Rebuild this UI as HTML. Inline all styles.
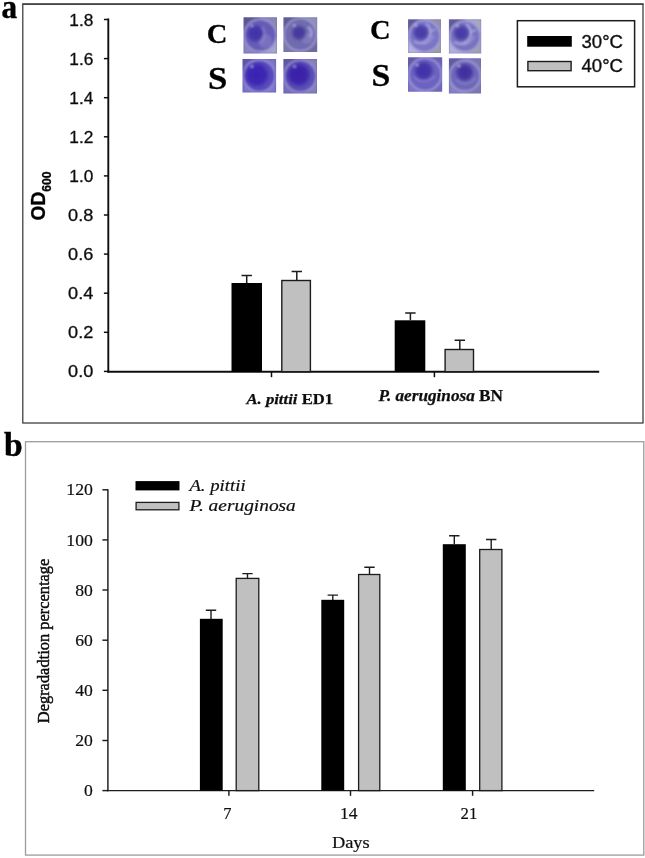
<!DOCTYPE html>
<html lang="en">
<head>
<meta charset="utf-8">
<title>Figure</title>
<style>
html,body{margin:0;padding:0;background:#fff;}
body{width:645px;height:858px;overflow:hidden;}
svg{display:block;}
.sans{font-family:"Liberation Sans",Arial,sans-serif;}
.serif{font-family:"Liberation Serif","Times New Roman",serif;}
</style>
</head>
<body>
<svg width="645" height="858" viewBox="0 0 645 858">
<defs>
  <filter id="soft" x="-5%" y="-5%" width="110%" height="110%"><feGaussianBlur stdDeviation="0.95"/></filter>
  <filter id="g" x="-2%" y="-2%" width="104%" height="104%"><feGaussianBlur stdDeviation="0.38"/></filter>
</defs>
<rect x="0" y="0" width="645" height="858" fill="#ffffff"/>
<g filter="url(#g)">
<!-- ================= PANEL A ================= -->
<g id="panelA">
  <rect x="22.8" y="4.3" width="620.2" height="418.7" fill="#fff" stroke="#303030" stroke-width="1.2"/>
  <line x1="22.2" y1="4.2" x2="643.6" y2="4.2" stroke="#444" stroke-width="1.7"/>
  <text class="serif" x="1.4" y="17.9" font-size="33" font-weight="bold" fill="#000" stroke="#000" stroke-width="0.4" textLength="15.6" lengthAdjust="spacingAndGlyphs">a</text>

  <g stroke="#111" stroke-width="1.9" fill="none">
    <line x1="108.3" y1="18.6" x2="108.3" y2="372.6"/>
    <line x1="107.4" y1="371.7" x2="599.2" y2="371.7"/>
  </g>
  <g stroke="#111" stroke-width="1.5">
<line x1="103.9" y1="371.4" x2="108.3" y2="371.4"/>
<line x1="103.9" y1="332.3" x2="108.3" y2="332.3"/>
<line x1="103.9" y1="293.2" x2="108.3" y2="293.2"/>
<line x1="103.9" y1="254.1" x2="108.3" y2="254.1"/>
<line x1="103.9" y1="215.0" x2="108.3" y2="215.0"/>
<line x1="103.9" y1="175.9" x2="108.3" y2="175.9"/>
<line x1="103.9" y1="136.8" x2="108.3" y2="136.8"/>
<line x1="103.9" y1="97.7" x2="108.3" y2="97.7"/>
<line x1="103.9" y1="58.6" x2="108.3" y2="58.6"/>
<line x1="103.9" y1="19.5" x2="108.3" y2="19.5"/>

    <line x1="271.5" y1="371.7" x2="271.5" y2="377.2"/>
    <line x1="434.4" y1="371.7" x2="434.4" y2="377.2"/>
  </g>
  <g class="sans" font-size="16.2" fill="#111" stroke="#111" stroke-width="0.3" text-anchor="end">
<text x="93.3" y="377.4" textLength="25.2" lengthAdjust="spacingAndGlyphs">0.0</text>
<text x="93.3" y="338.3" textLength="25.2" lengthAdjust="spacingAndGlyphs">0.2</text>
<text x="93.3" y="299.2" textLength="25.2" lengthAdjust="spacingAndGlyphs">0.4</text>
<text x="93.3" y="260.1" textLength="25.2" lengthAdjust="spacingAndGlyphs">0.6</text>
<text x="93.3" y="221.0" textLength="25.2" lengthAdjust="spacingAndGlyphs">0.8</text>
<text x="93.3" y="181.9" textLength="24" lengthAdjust="spacingAndGlyphs">1.0</text>
<text x="93.3" y="142.8" textLength="24" lengthAdjust="spacingAndGlyphs">1.2</text>
<text x="93.3" y="103.7" textLength="24" lengthAdjust="spacingAndGlyphs">1.4</text>
<text x="93.3" y="64.6" textLength="24" lengthAdjust="spacingAndGlyphs">1.6</text>
<text x="93.3" y="25.5" textLength="24" lengthAdjust="spacingAndGlyphs">1.8</text>

  </g>
  <g transform="translate(45,220.4) rotate(-90) scale(1,1.07)">
    <text class="sans" font-weight="bold" font-size="19.1" fill="#000" stroke="#000" stroke-width="0.3" x="0" y="0">OD<tspan font-size="12.1" dy="5.6">600</tspan></text>
  </g>

  <rect x="231.5" y="283" width="30.5" height="88.7" fill="#000"/>
  <rect x="281.8" y="280.5" width="28.6" height="91.2" fill="#c0c0c0" stroke="#1c1c1c" stroke-width="1.4"/>
  <rect x="394.7" y="320.3" width="30.6" height="51.4" fill="#000"/>
  <rect x="445.1" y="349.5" width="28.4" height="22.2" fill="#c0c0c0" stroke="#1c1c1c" stroke-width="1.4"/>
  <g stroke="#1c1c1c" stroke-width="1.5" fill="none">
    <path d="M246.7 283V275.6M241.5 275.6H251.9"/>
    <path d="M296.8 280V271.4M291.6 271.4H302"/>
    <path d="M410.4 320.3V313.1M405.2 313.1H415.6"/>
    <path d="M459.8 349V340.2M454.6 340.2H465"/>
  </g>
  <text class="serif" font-weight="bold" font-size="15.4" fill="#111" stroke="#111" stroke-width="0.25" x="246.4" y="403.5" textLength="86.8" lengthAdjust="spacingAndGlyphs"><tspan font-style="italic">A. pittii</tspan> ED1</text>
  <text class="serif" font-weight="bold" font-size="16.6" fill="#111" stroke="#111" stroke-width="0.25" x="378.6" y="401" textLength="124.4" lengthAdjust="spacingAndGlyphs"><tspan font-style="italic">P. aeruginosa</tspan> BN</text>

  <rect x="517.4" y="20.7" width="117.2" height="66.1" fill="#fff" stroke="#1c1c1c" stroke-width="1.5"/>
  <rect x="527.2" y="36" width="44.6" height="10.7" fill="#000"/>
  <rect x="527.9" y="61.5" width="43.2" height="9.2" fill="#c0c0c0" stroke="#1c1c1c" stroke-width="1.4"/>
  <text class="sans" font-size="18.4" fill="#111" stroke="#111" stroke-width="0.35" x="581.5" y="47.6" textLength="41.5" lengthAdjust="spacingAndGlyphs">30°C</text>
  <text class="sans" font-size="18.4" fill="#111" stroke="#111" stroke-width="0.35" x="581.5" y="72.2" textLength="41.5" lengthAdjust="spacingAndGlyphs">40°C</text>

  <g class="serif" font-weight="bold" fill="#000" stroke="#000" stroke-width="0.3">
    <text font-size="27" x="206.7" y="42.9" textLength="20.6" lengthAdjust="spacingAndGlyphs">C</text>
    <text font-size="31" x="207.9" y="88.8" textLength="19.3" lengthAdjust="spacingAndGlyphs">S</text>
    <text font-size="27.5" x="369.9" y="38.5" textLength="20.6" lengthAdjust="spacingAndGlyphs">C</text>
    <text font-size="31.5" x="371.4" y="85.5" textLength="18.8" lengthAdjust="spacingAndGlyphs">S</text>
  </g>
  <g>

    <clipPath id="cL1"><rect x="243.5" y="17.2" width="33.5" height="36.3"/></clipPath>
    <radialGradient id="gL1" gradientUnits="userSpaceOnUse" cx="255.5" cy="33.4" r="10">
      <stop offset="0" stop-color="#4232a8" stop-opacity="1"/>
      <stop offset="0.6" stop-color="#4232a8" stop-opacity="0.88"/>
      <stop offset="1" stop-color="#4232a8" stop-opacity="0"/>
    </radialGradient>
    <g clip-path="url(#cL1)"><g filter="url(#soft)">
      <rect x="240.5" y="14.2" width="39.5" height="42.3" fill="#665cb6"/>
      <rect x="243.5" y="17.2" width="17.2" height="18.6" fill="#5a568e"/>
      <rect x="260.2" y="17.2" width="16.8" height="18.6" fill="#8a88b2"/>
      <rect x="243.5" y="35.3" width="17.2" height="18.1" fill="#8a86c0"/>
      <rect x="260.2" y="35.3" width="16.8" height="18.1" fill="#a6a6c8"/>
      <circle cx="260.2" cy="35.3" r="16.8" fill="#665cb6"/>
      <circle cx="260.2" cy="35.3" r="16.1" fill="none" stroke="#b8b4e6" stroke-width="1.4" opacity="0.75"/><circle cx="265" cy="41" r="7" fill="#8884c8" opacity="0.55"/>
      <circle cx="255.5" cy="33.4" r="10" fill="url(#gL1)"/>
      <path d="M262 27 Q267.5 33 261 43" stroke="#9892d4" stroke-width="1.8" fill="none" opacity="0.7"/><ellipse cx="252" cy="25.8" rx="1.3" ry="0.9" fill="#e6e4ff" opacity="0.75"/></g></g>

    <clipPath id="cL2"><rect x="283.4" y="17.2" width="33.8" height="34.8"/></clipPath>
    <radialGradient id="gL2" gradientUnits="userSpaceOnUse" cx="299" cy="32.8" r="8.5">
      <stop offset="0" stop-color="#45379c" stop-opacity="1"/>
      <stop offset="0.6" stop-color="#45379c" stop-opacity="0.88"/>
      <stop offset="1" stop-color="#45379c" stop-opacity="0"/>
    </radialGradient>
    <g clip-path="url(#cL2)"><g filter="url(#soft)">
      <rect x="280.4" y="14.2" width="39.8" height="40.8" fill="#706aae"/>
      <rect x="283.4" y="17.2" width="17.4" height="17.9" fill="#5e5a94"/>
      <rect x="300.3" y="17.2" width="16.9" height="17.9" fill="#9090b8"/>
      <rect x="283.4" y="34.6" width="17.4" height="17.4" fill="#7c78a8"/>
      <rect x="300.3" y="34.6" width="16.9" height="17.4" fill="#6e6a9a"/>
      <circle cx="300.3" cy="34.6" r="16.9" fill="#706aae"/>
      <circle cx="300.3" cy="34.6" r="16.2" fill="none" stroke="#b8b4e6" stroke-width="1.4" opacity="0.75"/><circle cx="307" cy="38" r="6" fill="#8a86c4" opacity="0.55"/>
      <circle cx="299" cy="32.8" r="8.5" fill="url(#gL2)"/>
      <path d="M308 27 Q314 31.5 310 37" stroke="#aeaae0" stroke-width="2.4" fill="none" opacity="0.85"/><ellipse cx="294.2" cy="25.4" rx="1.3" ry="0.9" fill="#e6e4ff" opacity="0.75"/></g></g>

    <clipPath id="cL3"><rect x="242.5" y="59" width="33.6" height="33.5"/></clipPath>
    <radialGradient id="gL3" gradientUnits="userSpaceOnUse" cx="256.7" cy="74.8" r="14">
      <stop offset="0" stop-color="#3a22b0" stop-opacity="1"/>
      <stop offset="0.6" stop-color="#3a22b0" stop-opacity="0.88"/>
      <stop offset="1" stop-color="#3a22b0" stop-opacity="0"/>
    </radialGradient>
    <g clip-path="url(#cL3)"><g filter="url(#soft)">
      <rect x="239.5" y="56" width="39.6" height="39.5" fill="#5a4cbc"/>
      <rect x="242.5" y="59" width="17.3" height="17.2" fill="#5e56a6"/>
      <rect x="259.3" y="59" width="16.8" height="17.2" fill="#7a74c4"/>
      <rect x="242.5" y="75.8" width="17.3" height="16.8" fill="#7a74c4"/>
      <rect x="259.3" y="75.8" width="16.8" height="16.8" fill="#7e78c6"/>
      <circle cx="259.3" cy="75.8" r="16.8" fill="#5a4cbc"/>
      <circle cx="259.3" cy="75.8" r="16.1" fill="none" stroke="#b8b4e6" stroke-width="1.4" opacity="0.75"/>
      <circle cx="256.7" cy="74.8" r="14" fill="url(#gL3)"/>
      <ellipse cx="252" cy="66.5" rx="1.3" ry="0.9" fill="#e6e4ff" opacity="0.75"/></g></g>

    <clipPath id="cL4"><rect x="283.4" y="59" width="33.6" height="34.5"/></clipPath>
    <radialGradient id="gL4" gradientUnits="userSpaceOnUse" cx="298.5" cy="74.6" r="13.5">
      <stop offset="0" stop-color="#3820a8" stop-opacity="1"/>
      <stop offset="0.6" stop-color="#3820a8" stop-opacity="0.88"/>
      <stop offset="1" stop-color="#3820a8" stop-opacity="0"/>
    </radialGradient>
    <g clip-path="url(#cL4)"><g filter="url(#soft)">
      <rect x="280.4" y="56" width="39.6" height="40.5" fill="#5c50b6"/>
      <rect x="283.4" y="59" width="17.3" height="17.8" fill="#5e58a0"/>
      <rect x="300.2" y="59" width="16.8" height="17.8" fill="#8682b8"/>
      <rect x="283.4" y="76.2" width="17.3" height="17.2" fill="#7670b8"/>
      <rect x="300.2" y="76.2" width="16.8" height="17.2" fill="#8480b8"/>
      <circle cx="300.2" cy="76.2" r="16.8" fill="#5c50b6"/>
      <circle cx="300.2" cy="76.2" r="16.1" fill="none" stroke="#b8b4e6" stroke-width="1.4" opacity="0.75"/>
      <circle cx="298.5" cy="74.6" r="13.5" fill="url(#gL4)"/>
      <ellipse cx="294.5" cy="66.5" rx="1.3" ry="0.9" fill="#e6e4ff" opacity="0.75"/></g></g>

    <clipPath id="cR1"><rect x="408" y="19.2" width="33" height="33.9"/></clipPath>
    <radialGradient id="gR1" gradientUnits="userSpaceOnUse" cx="420.8" cy="32.4" r="9.2">
      <stop offset="0" stop-color="#483aa6" stop-opacity="1"/>
      <stop offset="0.6" stop-color="#483aa6" stop-opacity="0.88"/>
      <stop offset="1" stop-color="#483aa6" stop-opacity="0"/>
    </radialGradient>
    <g clip-path="url(#cR1)"><g filter="url(#soft)">
      <rect x="405" y="16.2" width="39" height="39.9" fill="#7a74c4"/>
      <rect x="408" y="19.2" width="17.0" height="17.4" fill="#5c5896"/>
      <rect x="424.5" y="19.2" width="16.5" height="17.4" fill="#9090ac"/>
      <rect x="408" y="36.1" width="17.0" height="16.9" fill="#b4b4dc"/>
      <rect x="424.5" y="36.1" width="16.5" height="16.9" fill="#9c9cac"/>
      <circle cx="424.5" cy="36.1" r="16.5" fill="#7a74c4"/>
      <circle cx="424.5" cy="36.1" r="15.8" fill="none" stroke="#b8b4e6" stroke-width="1.4" opacity="0.85"/>
      <circle cx="420.8" cy="32.4" r="9.2" fill="url(#gR1)"/>
      <path d="M425.8 23.4 A10.5 10.5 0 0 1 413.8 41.4" stroke="#b4b4ea" stroke-width="1.7" fill="none" opacity="0.85"/><path d="M429.8 31.4 L435.8 29.4" stroke="#b4b4ea" stroke-width="1.5" fill="none" opacity="0.8"/><path d="M422.8 44.4 A14 14 0 0 0 433.8 35.4" stroke="#a8a8e0" stroke-width="1.4" fill="none" opacity="0.7"/><ellipse cx="416" cy="25.5" rx="1.3" ry="0.9" fill="#e6e4ff" opacity="0.75"/></g></g>

    <clipPath id="cR2"><rect x="448.9" y="19.2" width="32.3" height="34.4"/></clipPath>
    <radialGradient id="gR2" gradientUnits="userSpaceOnUse" cx="461.2" cy="33" r="9.2">
      <stop offset="0" stop-color="#483aa4" stop-opacity="1"/>
      <stop offset="0.6" stop-color="#483aa4" stop-opacity="0.88"/>
      <stop offset="1" stop-color="#483aa4" stop-opacity="0"/>
    </radialGradient>
    <g clip-path="url(#cR2)"><g filter="url(#soft)">
      <rect x="445.9" y="16.2" width="38.3" height="40.4" fill="#7872c0"/>
      <rect x="448.9" y="19.2" width="16.6" height="17.7" fill="#5e5a98"/>
      <rect x="465.0" y="19.2" width="16.1" height="17.7" fill="#a8a8c0"/>
      <rect x="448.9" y="36.4" width="16.6" height="17.2" fill="#b0b0d8"/>
      <rect x="465.0" y="36.4" width="16.1" height="17.2" fill="#a0a0b0"/>
      <circle cx="465.0" cy="36.4" r="16.1" fill="#7872c0"/>
      <circle cx="465.0" cy="36.4" r="15.4" fill="none" stroke="#b8b4e6" stroke-width="1.4" opacity="0.85"/>
      <circle cx="461.2" cy="33" r="9.2" fill="url(#gR2)"/>
      <path d="M466.2 24 A10.5 10.5 0 0 1 454.2 42" stroke="#b4b4ea" stroke-width="1.7" fill="none" opacity="0.85"/><path d="M470.2 32 L476.2 30" stroke="#b4b4ea" stroke-width="1.5" fill="none" opacity="0.8"/><path d="M463.2 45 A14 14 0 0 0 474.2 36" stroke="#a8a8e0" stroke-width="1.4" fill="none" opacity="0.7"/><ellipse cx="457.5" cy="26" rx="1.3" ry="0.9" fill="#e6e4ff" opacity="0.75"/></g></g>

    <clipPath id="cR3"><rect x="408" y="57.2" width="34.2" height="34.6"/></clipPath>
    <radialGradient id="gR3" gradientUnits="userSpaceOnUse" cx="423.6" cy="70.8" r="11">
      <stop offset="0" stop-color="#4230a8" stop-opacity="1"/>
      <stop offset="0.6" stop-color="#4230a8" stop-opacity="0.88"/>
      <stop offset="1" stop-color="#4230a8" stop-opacity="0"/>
    </radialGradient>
    <g clip-path="url(#cR3)"><g filter="url(#soft)">
      <rect x="405" y="54.2" width="40.2" height="40.6" fill="#6c62c0"/>
      <rect x="408" y="57.2" width="17.6" height="17.8" fill="#625aa8"/>
      <rect x="425.1" y="57.2" width="17.1" height="17.8" fill="#6a62b8"/>
      <rect x="408" y="74.5" width="17.6" height="17.3" fill="#7a74c4"/>
      <rect x="425.1" y="74.5" width="17.1" height="17.3" fill="#6e68b8"/>
      <circle cx="425.1" cy="74.5" r="17.1" fill="#6c62c0"/>
      <circle cx="425.1" cy="74.5" r="16.4" fill="none" stroke="#b8b4e6" stroke-width="1.4" opacity="0.8"/>
      <circle cx="423.6" cy="70.8" r="11" fill="url(#gR3)"/>
      <path d="M414 77 Q424 86 435 76" stroke="#8e88d8" stroke-width="1.6" fill="none" opacity="0.75"/><ellipse cx="417" cy="65" rx="1.3" ry="0.9" fill="#e6e4ff" opacity="0.75"/></g></g>

    <clipPath id="cR4"><rect x="448.9" y="58.3" width="32.1" height="35.2"/></clipPath>
    <radialGradient id="gR4" gradientUnits="userSpaceOnUse" cx="464.6" cy="72.4" r="10.2">
      <stop offset="0" stop-color="#402e9e" stop-opacity="1"/>
      <stop offset="0.6" stop-color="#402e9e" stop-opacity="0.88"/>
      <stop offset="1" stop-color="#402e9e" stop-opacity="0"/>
    </radialGradient>
    <g clip-path="url(#cR4)"><g filter="url(#soft)">
      <rect x="445.9" y="55.3" width="38.1" height="41.2" fill="#6e66b8"/>
      <rect x="448.9" y="58.3" width="16.6" height="18.1" fill="#605aa0"/>
      <rect x="464.9" y="58.3" width="16.1" height="18.1" fill="#7a76b0"/>
      <rect x="448.9" y="75.9" width="16.6" height="17.6" fill="#8682c0"/>
      <rect x="464.9" y="75.9" width="16.1" height="17.6" fill="#7c78b0"/>
      <circle cx="464.9" cy="75.9" r="16.1" fill="#6e66b8"/>
      <circle cx="464.9" cy="75.9" r="15.4" fill="none" stroke="#b8b4e6" stroke-width="1.4" opacity="0.8"/>
      <circle cx="464.6" cy="72.4" r="10.2" fill="url(#gR4)"/>
      <path d="M456 80 Q466 88 476 78" stroke="#8e88d0" stroke-width="1.6" fill="none" opacity="0.75"/><ellipse cx="459" cy="66" rx="1.3" ry="0.9" fill="#e6e4ff" opacity="0.75"/></g></g>
  </g>
</g>

<!-- ================= PANEL B ================= -->
<g id="panelB">
  <rect x="25.5" y="441.7" width="618.3" height="413.4" fill="#fff" stroke="#9c9c9c" stroke-width="1.3"/>
  <text class="serif" x="4.0" y="456.2" font-size="33.5" font-weight="bold" fill="#000" stroke="#000" stroke-width="0.5">b</text>

  <g stroke="#1c1c1c" stroke-width="1.45" fill="none">
    <line x1="107.9" y1="489.2" x2="107.9" y2="791.2"/>
    <line x1="107.3" y1="790.6" x2="594.2" y2="790.6"/>
<line x1="102.4" y1="790.6" x2="108" y2="790.6"/>
<line x1="102.4" y1="740.5" x2="108" y2="740.5"/>
<line x1="102.4" y1="690.3" x2="108" y2="690.3"/>
<line x1="102.4" y1="640.2" x2="108" y2="640.2"/>
<line x1="102.4" y1="590.0" x2="108" y2="590.0"/>
<line x1="102.4" y1="539.9" x2="108" y2="539.9"/>
<line x1="102.4" y1="489.8" x2="108" y2="489.8"/>

    <line x1="228.9" y1="790.6" x2="228.9" y2="795.8"/>
    <line x1="350.5" y1="790.6" x2="350.5" y2="795.8"/>
    <line x1="472.6" y1="790.6" x2="472.6" y2="795.8"/>
  </g>
  <g class="serif" font-size="16.8" fill="#111" stroke="#111" stroke-width="0.2" text-anchor="end">
<text x="92.9" y="796.2" textLength="8.8" lengthAdjust="spacingAndGlyphs">0</text>
<text x="92.9" y="746.1" textLength="17.6" lengthAdjust="spacingAndGlyphs">20</text>
<text x="92.9" y="695.9" textLength="17.6" lengthAdjust="spacingAndGlyphs">40</text>
<text x="92.9" y="645.8" textLength="17.6" lengthAdjust="spacingAndGlyphs">60</text>
<text x="92.9" y="595.6" textLength="17.6" lengthAdjust="spacingAndGlyphs">80</text>
<text x="92.9" y="545.5" textLength="26.6" lengthAdjust="spacingAndGlyphs">100</text>
<text x="92.9" y="495.4" textLength="26.6" lengthAdjust="spacingAndGlyphs">120</text>

  </g>
  <g transform="translate(48.8,723.2) rotate(-90)">
    <text class="serif" font-size="16.4" fill="#0a0a0a" stroke="#0a0a0a" stroke-width="0.45" x="0" y="0" textLength="164.5" lengthAdjust="spacingAndGlyphs">Degradadtion percentage</text>
  </g>

  <rect x="199.9" y="618.8" width="22.8" height="171.8" fill="#000"/>
  <rect x="236.2" y="578.4" width="22.6" height="212.2" fill="#c0c0c0" stroke="#1c1c1c" stroke-width="1.3"/>
  <rect x="321.3" y="599.8" width="22.9" height="190.8" fill="#000"/>
  <rect x="358.6" y="574.5" width="21.2" height="216.1" fill="#c0c0c0" stroke="#1c1c1c" stroke-width="1.3"/>
  <rect x="442.8" y="544.2" width="23" height="246.4" fill="#000"/>
  <rect x="479.7" y="549.5" width="22.2" height="241.1" fill="#c0c0c0" stroke="#1c1c1c" stroke-width="1.3"/>
  <g stroke="#1c1c1c" stroke-width="1.4" fill="none">
    <path d="M211 619V610.2M205.8 610.2H216.2"/>
    <path d="M247.5 578V573.6M242.3 573.6H252.7"/>
    <path d="M332.8 600V595.1M327.6 595.1H338"/>
    <path d="M369.5 574V567.3M364.3 567.3H374.7"/>
    <path d="M454.3 544.2V535.8M449.1 535.8H459.5"/>
    <path d="M491.2 549V539.5M486 539.5H496.4"/>
  </g>
  <g class="serif" font-size="17" fill="#111" stroke="#111" stroke-width="0.2">
    <text x="223.2" y="818.8" textLength="8.2" lengthAdjust="spacingAndGlyphs">7</text>
    <text x="340" y="818.8" textLength="17.6" lengthAdjust="spacingAndGlyphs">14</text>
    <text x="460.6" y="818.8" textLength="16.8" lengthAdjust="spacingAndGlyphs">21</text>
    <text x="331.9" y="848.2" font-size="16.6" textLength="37.8" lengthAdjust="spacingAndGlyphs">Days</text>
  </g>
  <rect x="135.5" y="481.1" width="44" height="9.3" fill="#000"/>
  <rect x="136.1" y="502.4" width="42.8" height="7.4" fill="#c0c0c0" stroke="#1c1c1c" stroke-width="1.3"/>
  <text class="serif" font-style="italic" font-size="16.5" fill="#111" stroke="#111" stroke-width="0.2" x="189.4" y="491.1" textLength="56.2" lengthAdjust="spacingAndGlyphs">A. pittii</text>
  <text class="serif" font-style="italic" font-size="16.5" fill="#111" stroke="#111" stroke-width="0.2" x="189.6" y="510.6" textLength="106.2" lengthAdjust="spacingAndGlyphs">P. aeruginosa</text>
</g>
</g>
</svg>
</body>
</html>
